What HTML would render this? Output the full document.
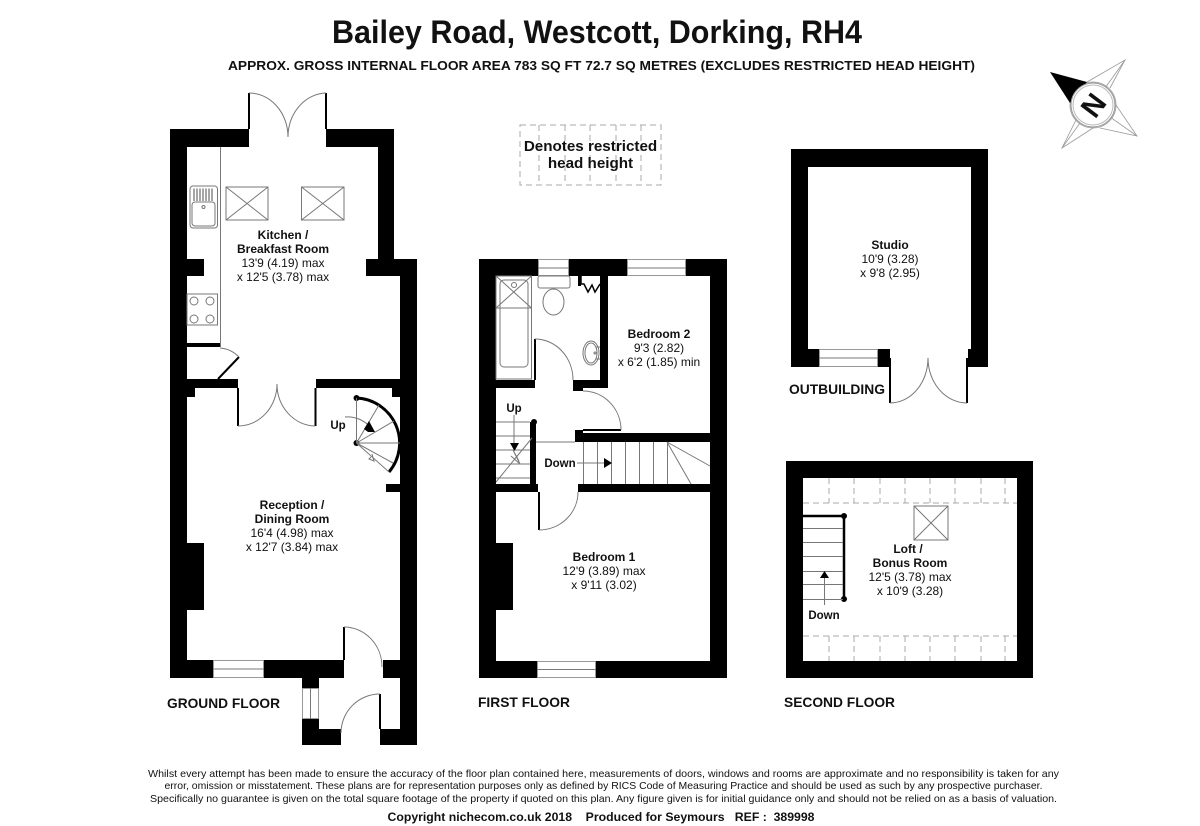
<!DOCTYPE html>
<html><head><meta charset="utf-8"><title>Bailey Road floor plan</title>
<style>
html,body{margin:0;padding:0;background:#fff}
svg{display:block}
text{font-family:"Liberation Sans",sans-serif;fill:#111;text-anchor:middle}
.b{font-weight:bold}
.r{font-size:12px}
.t{fill:none;stroke:#777;stroke-width:1}
.k{fill:none;stroke:#000}
.d{fill:none;stroke:#aaa;stroke-width:1;stroke-dasharray:6 4}
.win{fill:#fff;stroke:#999;stroke-width:1}
</style></head><body>
<svg width="1200" height="826" viewBox="0 0 1200 826" xmlns="http://www.w3.org/2000/svg">
<rect width="1200" height="826" fill="#fff"/>

<!-- Titles -->
<text class="b" x="597" y="43" font-size="32" textLength="530" lengthAdjust="spacingAndGlyphs">Bailey Road, Westcott, Dorking, RH4</text>
<text class="b" x="601.500" y="70" font-size="13" textLength="747" lengthAdjust="spacingAndGlyphs">APPROX. GROSS INTERNAL FLOOR AREA 783 SQ FT 72.7 SQ METRES (EXCLUDES RESTRICTED HEAD HEIGHT)</text>

<!-- GROUND FLOOR walls -->
<g fill="#000">
<rect x="170" y="129" width="17" height="549"/>
<rect x="170" y="129" width="79" height="18"/>
<rect x="326" y="129" width="68" height="18"/>
<rect x="378" y="129" width="16" height="147"/>
<rect x="366" y="259" width="51" height="17"/>
<rect x="400" y="259" width="17" height="486"/>
<rect x="187" y="259" width="17" height="17"/>
<rect x="187" y="343" width="33" height="4"/>
<rect x="187" y="379" width="51" height="9"/>
<rect x="187" y="388" width="8" height="9"/>
<rect x="316" y="379" width="84" height="9"/>
<rect x="392" y="388" width="8" height="9"/>
<rect x="187" y="543" width="17" height="67"/>
<rect x="386" y="484" width="14" height="8"/>
<rect x="170" y="660" width="174" height="18"/>
<rect x="383" y="660" width="34" height="18"/>
<rect x="302" y="678" width="17" height="10"/>
<rect x="302" y="719" width="17" height="26"/>
<rect x="302" y="729" width="39" height="16"/>
<rect x="380" y="729" width="37" height="16"/>
</g>
<!-- ground windows -->
<rect class="win" x="213.500" y="660.500" width="50" height="17"/><path class="t" d="M213 669H264"/>
<rect class="win" x="302.500" y="688.500" width="16" height="30"/><path class="t" d="M310.500 688V719"/>
<!-- ground doors -->
<path class="k" stroke-width="2" d="M249 129V93M326 129V93"/>
<path class="t" d="M249 93A39 44 0 0 1 288 137M326 93A39 44 0 0 0 288 137"/>
<path class="k" stroke-width="2" d="M238 388V426M315.500 388V426"/>
<path class="t" d="M238 426A39 42 0 0 0 277 384M315 426A39 42 0 0 1 277 384"/>
<path class="k" stroke-width="2" d="M344 627V660M380 694V729"/>
<path class="t" d="M344 627A38 40 0 0 1 382 667M380 694A39 39 0 0 0 341 733"/>
<path class="k" stroke-width="2" d="M218 379L239 357"/>
<path class="t" d="M220 348A30 30 0 0 1 239 357"/>
<!-- kitchen fittings -->
<path class="t" d="M220.500 147V347"/>
<rect class="t" x="190" y="186" width="27.500" height="42" rx="3"/>
<rect class="t" x="192" y="202" width="23" height="24" rx="3"/>
<circle class="t" cx="203.500" cy="207" r="1.500"/>
<path d="M194 188.500V201M197 188.500V201M200 188.500V201M203 188.500V201M206 188.500V201M209 188.500V201M212 188.500V201" fill="none" stroke="#888" stroke-width="1.500"/>
<g class="t"><rect x="226" y="187" width="42" height="33"/><path d="M226 187L268 220M268 187L226 220"/><rect x="301.500" y="187" width="42.500" height="33"/><path d="M301.500 187L344 220M344 187L301.500 220"/></g>
<g class="t"><rect x="187" y="294" width="30.500" height="31"/><circle cx="194" cy="301" r="4"/><circle cx="210" cy="301" r="4"/><circle cx="194" cy="319" r="4"/><circle cx="210" cy="319" r="4"/></g>
<!-- spiral stair -->
<path class="k" stroke-width="3" d="M356 398A45 45 0 0 1 389 472"/>
<circle cx="356.500" cy="398" r="3"/><circle cx="356.500" cy="443" r="3"/>
<path class="t" d="M356.500 443V398M356.500 443L379 405M356.500 443L394 421M356.500 443H400M356.500 443L393 463M356.500 443L389 472"/>
<path class="t" d="M345 417A30 30 0 0 1 371 428"/>
<path d="M369 421L375 432L368 432L364 429Z" fill="#000"/>
<path class="t" d="M371 457L369 459L374 461L372 454"/>
<text class="b" x="338" y="429" font-size="11.500">Up</text>

<!-- FIRST FLOOR -->
<path fill="#000" fill-rule="evenodd" d="M479 259H727V678H479Z M496 276V543H513V610H496V661H710V276Z"/>
<rect class="win" x="538.500" y="259.500" width="30" height="16"/><path class="t" d="M538 268H569"/>
<rect class="win" x="627.500" y="259.500" width="58" height="16"/><path class="t" d="M627 268H686"/>
<rect class="win" x="537.500" y="661.500" width="58" height="16"/><path class="t" d="M537 669.500H596"/>
<path d="M600 276H608V388H573V380H600Z M496 380H535V388H496Z M573 388H583V391H573Z" fill="#000"/>
<rect x="575" y="433" width="135" height="9" fill="#000"/>
<rect x="575" y="430" width="8" height="3" fill="#000"/>
<rect x="496" y="484" width="42" height="8" fill="#000"/>
<rect x="578" y="484" width="132" height="8" fill="#000"/>
<rect x="530" y="422" width="6" height="62" fill="#000"/>
<circle cx="534" cy="422" r="3"/>
<path class="k" stroke-width="2" d="M535 339V380M539 492V530M583 430H621"/>
<path class="t" d="M535 339A38 41 0 0 1 573 380M583 391A38 39 0 0 1 621 430M539 530A39 38 0 0 0 578 492"/>
<!-- bath / wc -->
<g class="t">
<rect x="496" y="276" width="35.500" height="103" />
<rect x="500" y="280" width="28" height="87" rx="4"/>
<path d="M496 276L531.500 308M531.500 276L496 308M496 308H531.500"/>
<circle cx="514" cy="285" r="2.500"/>
<rect x="538" y="276" width="32" height="12" rx="2"/>
<ellipse cx="553.500" cy="302" rx="10.500" ry="13"/>
<ellipse cx="591" cy="353" rx="8" ry="12"/>
<ellipse cx="591" cy="353" rx="6" ry="10"/>
<circle cx="595" cy="353" r="1"/><path d="M596 347H600M596 359H600"/>
</g>
<path d="M578 276H581V284H584L588 292L592 285L595 292L600 284" fill="none" stroke="#000" stroke-width="1.500"/>
<path d="M578 276H581V286H578Z" fill="#000"/>
<!-- stairs first -->
<path class="t" d="M496 422H530M496 436H530M496 450H530M496 464H530M496 478H530M496 482L532 438M536 442H575"/>
<path class="t" d="M514 415V445M511 456L520 464L513 450L519 461"/>
<path d="M510 443H519L514.500 451Z" fill="#000"/>
<path class="t" d="M583.500 442V484M597.500 442V484M611.500 442V484M625.500 442V484M639.500 442V484M653.500 442V484M667.500 442V484M667 442L710 466M667 442L691 484M577 463H604"/>
<path d="M604 458L612 463L604 468Z" fill="#000"/>
<text class="b" x="514" y="412" font-size="11.500">Up</text>
<text class="b" x="560" y="467" font-size="11.500">Down</text>

<!-- OUTBUILDING -->
<path fill="#000" fill-rule="evenodd" d="M791 149H988V367H966V358H968V349H971V167H808V349H878V367H791Z"/>
<rect x="878" y="349" width="12" height="18" fill="#000"/>
<rect class="win" x="819.500" y="349.500" width="58" height="17"/><path class="t" d="M819 358H878"/>
<path class="k" stroke-width="2" d="M890 358V403M967 358V403"/>
<path class="t" d="M890 403A38 45 0 0 0 928 358M967 403A39 45 0 0 1 928 358"/>

<!-- LOFT -->
<path fill="#000" fill-rule="evenodd" d="M786 461H1033V678H786Z M803 478V661H1017V478Z"/>
<path class="d" d="M803 503H1017M803 636H1017"/>
<path class="d" d="M829 478V503M854 478V503M880 478V503M905 478V503M930 478V503M955 478V503M981 478V503M1005 478V503M829 636V661M854 636V661M880 636V661M905 636V661M930 636V661M955 636V661M981 636V661M1005 636V661"/>
<g class="t"><rect x="914" y="506" width="34" height="34"/><path d="M914 506L948 540M948 506L914 540"/></g>
<path class="k" stroke-width="2.500" d="M803 516H844V599"/>
<circle cx="844" cy="516" r="3"/><circle cx="844" cy="599" r="3"/>
<path class="t" d="M803 528.500H843M803 542.500H843M803 556.500H843M803 571.500H843M803 584.500H843M803 599.500H843M824.500 605V578"/>
<path d="M820 578H829L824.500 571Z" fill="#000"/>
<text class="b" x="824" y="619" font-size="11.500">Down</text>

<!-- restricted key -->
<g class="d">
<rect x="520" y="125" width="141" height="60"/>
<path d="M539 125V185M565 125V185M590 125V185M616 125V185M641 125V185"/>
</g>
<text class="b" x="590.500" y="151" font-size="15.200">Denotes restricted</text>
<text class="b" x="590.500" y="168" font-size="15.200">head height</text>

<!-- compass -->
<g fill="none" stroke="#999" stroke-width="0.800">
<path d="M1087 82L1125 60L1110 88M1116 105L1137 136L1100 128M1093 128L1062 148L1076 120"/>
<path d="M1125 60L1093 105L1137 136M1093 105L1062 148"/>
<circle cx="1093" cy="105" r="23"/><circle cx="1093" cy="105" r="21"/>
</g>
<path d="M1050 72L1087 82L1070 103Z" fill="#000"/>
<circle cx="1093" cy="105" r="22" fill="#fff" stroke="#999" stroke-width="1"/>
<circle cx="1093" cy="105" r="20" fill="none" stroke="#bbb" stroke-width="1"/>
<text class="b" x="0" y="0" font-size="29" transform="translate(1093 105) rotate(-53) translate(0 10.500)">N</text>

<!-- room labels -->
<g class="r">
<text class="b" x="283" y="239">Kitchen /</text>
<text class="b" x="283" y="253">Breakfast Room</text>
<text x="283" y="267">13'9 (4.19) max</text>
<text x="283" y="281">x 12'5 (3.78) max</text>

<text class="b" x="292" y="509">Reception /</text>
<text class="b" x="292" y="523">Dining Room</text>
<text x="292" y="537">16'4 (4.98) max</text>
<text x="292" y="551">x 12'7 (3.84) max</text>

<text class="b" x="659" y="338">Bedroom 2</text>
<text x="659" y="352">9'3 (2.82)</text>
<text x="659" y="366">x 6'2 (1.85) min</text>

<text class="b" x="604" y="561">Bedroom 1</text>
<text x="604" y="575">12'9 (3.89) max</text>
<text x="604" y="589">x 9'11 (3.02)</text>

<text class="b" x="890" y="249">Studio</text>
<text x="890" y="263">10'9 (3.28)</text>
<text x="890" y="277">x 9'8 (2.95)</text>

<text class="b" x="908" y="553">Loft /</text>
<text class="b" x="910" y="567">Bonus Room</text>
<text x="910" y="581">12'5 (3.78) max</text>
<text x="910" y="595">x 10'9 (3.28)</text>
</g>

<!-- floor labels -->
<g class="b" font-size="14">
<text x="223.500" y="708" textLength="113" lengthAdjust="spacingAndGlyphs">GROUND FLOOR</text>
<text x="524" y="707" textLength="92" lengthAdjust="spacingAndGlyphs">FIRST FLOOR</text>
<text x="839.500" y="707" textLength="111" lengthAdjust="spacingAndGlyphs">SECOND FLOOR</text>
<text x="837" y="394" textLength="96" lengthAdjust="spacingAndGlyphs">OUTBUILDING</text>
</g>

<!-- footer -->
<g font-size="10.500">
<text x="603.500" y="777" textLength="911" lengthAdjust="spacingAndGlyphs">Whilst every attempt has been made to ensure the accuracy of the floor plan contained here, measurements of doors, windows and rooms are approximate and no responsibility is taken for any</text>
<text x="603.500" y="789" textLength="878" lengthAdjust="spacingAndGlyphs">error, omission or misstatement. These plans are for representation purposes only as defined by RICS Code of Measuring Practice and should be used as such by any prospective purchaser.</text>
<text x="603.500" y="802" textLength="907" lengthAdjust="spacingAndGlyphs">Specifically no guarantee is given on the total square footage of the property if quoted on this plan. Any figure given is for initial guidance only and should not be relied on as a basis of valuation.</text>
</g>
<text class="b" x="601" y="821" font-size="12" textLength="427" lengthAdjust="spacingAndGlyphs" xml:space="preserve">Copyright nichecom.co.uk 2018    Produced for Seymours   REF :  389998</text>
</svg>
</body></html>
